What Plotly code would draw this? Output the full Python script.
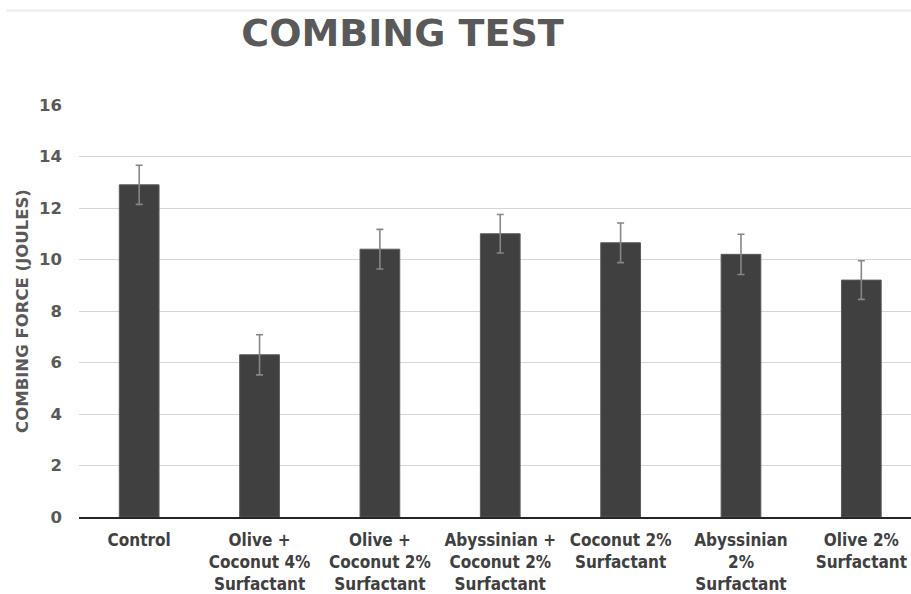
import plotly.graph_objects as go

# Combing force per formulation (joules) with error bars
categories = [
    "Control",
    "Olive +<br>Coconut 4%<br>Surfactant",
    "Olive +<br>Coconut 2%<br>Surfactant",
    "Abyssinian +<br>Coconut 2%<br>Surfactant",
    "Coconut 2%<br>Surfactant",
    "Abyssinian<br>2%<br>Surfactant",
    "Olive 2%<br>Surfactant",
]
force = [12.9, 6.3, 10.4, 11.0, 10.65, 10.2, 9.2]
error = [0.76, 0.78, 0.77, 0.75, 0.77, 0.78, 0.75]
y_ticks = [0, 2, 4, 6, 8, 10, 12, 14, 16]

W, H = 911, 594
L, R, T, B = 79.4, 0, 105, 76.5

fig = go.Figure(
    go.Bar(
        x=list(range(len(categories))),
        y=force,
        width=0.33,
        marker=dict(color="#404040", line=dict(color="#5a5a5a", width=1)),
        error_y=dict(type="data", array=error, visible=True,
                     color="#868686", thickness=1.6, width=3.5),
    )
)

fig.update_layout(
    width=W, height=H,
    margin=dict(l=L, r=R, t=T, b=B, pad=0, autoexpand=False),
    paper_bgcolor="white", plot_bgcolor="white",
    showlegend=False,
    title=dict(
        text="<b>COMBING TEST</b>",
        font=dict(family="DejaVu Sans", size=38, color="#595959"),
        x=402.5 / W, xref="container", xanchor="center",
        y=1 - 33 / H, yref="container", yanchor="middle",
    ),
    shapes=[dict(
        type="line", xref="paper", yref="paper",
        x0=(7 - L) / (W - L), x1=1.0,
        y0=(H - B - 10.5) / (H - T - B), y1=(H - B - 10.5) / (H - T - B),
        line=dict(color="#ececec", width=2),
    )],
)

fig.update_xaxes(
    tickmode="array",
    tickvals=list(range(len(categories))),
    ticktext=[f"<b>{c}</b>" for c in categories],
    range=[-0.5, -0.5 + (W - L) / 120.3],
    tickfont=dict(family="DejaVu Sans Condensed", size=17, color="#404040"),
    showgrid=False,
    showline=True, linecolor="#262626", linewidth=1.5,
    ticks="", ticklabelstandoff=7,
    automargin=False,
)

fig.update_yaxes(
    range=[0, 16],
    tickmode="array",
    tickvals=y_ticks,
    ticktext=[f"<b>{v}</b>" for v in y_ticks],
    tickfont=dict(family="DejaVu Sans", size=16.5, color="#595959"),
    showgrid=True, gridcolor="#d6d6d6", gridwidth=1.4,
    zeroline=False, showline=False,
    ticks="", ticklabelstandoff=16,
    automargin=False,
    title=dict(
        text="<b>COMBING FORCE (JOULES)</b>",
        font=dict(family="DejaVu Sans", size=16.5, color="#595959"),
        standoff=6,
    ),
)

fig.write_html("out.html")
